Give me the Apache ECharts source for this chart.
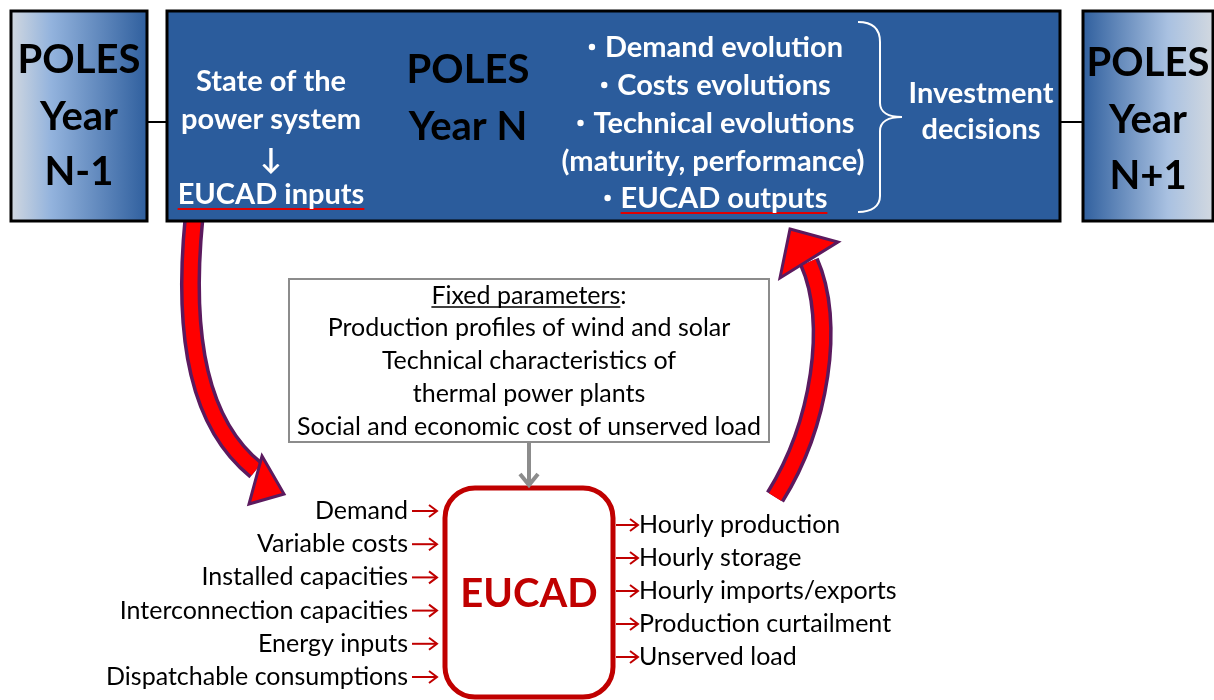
<!DOCTYPE html>
<html>
<head>
<meta charset="utf-8">
<script src="https://cdn.jsdelivr.net/npm/echarts@6/dist/echarts.min.js"></script>
<style>
  html, body { margin: 0; padding: 0; background: #fff; }
  #main { width: 1214px; height: 700px; }
</style>
</head>
<body>
<div id="main"></div>
<script>
var chart = echarts.init(document.getElementById('main'));

// texts of the diagram
var prevYear = ['POLES', 'Year', 'N-1'];
var nextYear = ['POLES', 'Year', 'N+1'];
var curYear = ['POLES', 'Year N'];
var stateLines = ['State of the', 'power system', '\u2193', 'EUCAD inputs'];
var evolutions = ['Demand evolution', 'Costs evolutions', 'Technical evolutions',
    '(maturity, performance)', 'EUCAD outputs'];
var bulleted = [true, true, true, false, true];
var decision = ['Investment', 'decisions'];
var fixedTitle = 'Fixed parameters';
var fixedParams = ['Production profiles of wind and solar', 'Technical characteristics of',
    'thermal power plants', 'Social and economic cost of unserved load'];
var inputs = ['Demand', 'Variable costs', 'Installed capacities', 'Interconnection capacities',
    'Energy inputs', 'Dispatchable consumptions'];
var outputs = ['Hourly production', 'Hourly storage', 'Hourly imports/exports',
    'Production curtailment', 'Unserved load'];
var modelName = 'EUCAD';

var FONT = 'Lato, "DejaVu Sans", sans-serif';
var RED = '#c00000';
var BLUE = '#2b5c9c';
var PURPLE = '#5b1a5e';

var ctx = document.createElement('canvas').getContext('2d');
function measure(s, font) { ctx.font = font; return ctx.measureText(s).width; }

function txt(s, x, y, size, color, bold, align) {
    return {
        type: 'text', z: 20,
        style: {
            text: s, x: x, y: y, fill: color,
            font: (bold ? 'bold ' : '') + size + 'px ' + FONT,
            textAlign: align || 'center', textVerticalAlign: 'middle'
        }
    };
}
function line(pts, color, w, z) {
    return { type: 'polyline', z: z || 10, shape: { points: pts },
        style: { stroke: color, lineWidth: w, fill: null } };
}
function curve(a, c1, c2, b, color, w, z) {
    return { type: 'bezierCurve', z: z || 10,
        shape: { x1: a[0], y1: a[1], cpx1: c1[0], cpy1: c1[1], cpx2: c2[0], cpy2: c2[1], x2: b[0], y2: b[1] },
        style: { stroke: color, lineWidth: w, fill: null } };
}

var els = [];

// big red curved arrows (below the boxes)
els.push(curve([194, 218], [182, 340], [200, 425], [256, 470], PURPLE, 21, 1));
els.push(curve([194, 218], [182, 340], [200, 425], [256, 470], '#ff0000', 14, 2));
els.push({ type: 'polygon', z: 3,
    shape: { points: [[262, 456], [284, 494], [249, 504]] },
    style: { fill: '#ff0000', stroke: PURPLE, lineWidth: 3, lineJoin: 'miter' } });

els.push(curve([775, 497], [820, 425], [836, 322], [809, 262], PURPLE, 21, 1));
els.push(curve([775, 497], [820, 425], [836, 322], [809, 262], '#ff0000', 14, 2));
els.push({ type: 'polygon', z: 3,
    shape: { points: [[790, 229], [838, 242], [780, 278]] },
    style: { fill: '#ff0000', stroke: PURPLE, lineWidth: 3, lineJoin: 'miter' } });

// connectors between years
els.push(line([[148, 122], [166, 122]], '#000', 2, 5));
els.push(line([[1060, 122], [1082, 122]], '#000', 2, 5));

// year boxes
els.push({ type: 'rect', z: 6, shape: { x: 11, y: 11, width: 136, height: 210 },
    style: { stroke: '#000', lineWidth: 3,
        fill: new echarts.graphic.LinearGradient(0, 0, 1, 0, [
            { offset: 0, color: '#d3d9e0' }, { offset: 0.3, color: '#93b3dd' }, { offset: 1, color: '#2e5e9d' }]) } });
els.push({ type: 'rect', z: 6, shape: { x: 1083, y: 11, width: 130, height: 210 },
    style: { stroke: '#000', lineWidth: 3,
        fill: new echarts.graphic.LinearGradient(0, 0, 1, 0, [
            { offset: 0, color: '#2e5e9d' }, { offset: 0.65, color: '#a9c1e1' }, { offset: 1, color: '#d3d9e0' }]) } });
els.push({ type: 'rect', z: 6, shape: { x: 167, y: 11, width: 893, height: 210 },
    style: { stroke: '#000', lineWidth: 3, fill: BLUE } });

[60, 117, 172].forEach(function (y, i) { els.push(txt(prevYear[i], 79, y, 40, '#000', true)); });
[63, 120, 176].forEach(function (y, i) { els.push(txt(nextYear[i], 1148, y, 40, '#000', true)); });
[70, 127].forEach(function (y, i) { els.push(txt(curYear[i], 468, y, 40, '#000', true)); });
[82, 120, 160, 195].forEach(function (y, i) { els.push(txt(stateLines[i], 271, y, 29, '#fff', true)); });
var wIn = measure(stateLines[3], 'bold 29px ' + FONT);
els.push(line([[271 - wIn / 2, 209], [271 + wIn / 2, 209]], '#e00000', 2));

// evolutions, bullet drawn smaller in front of the text
var BF = 'bold 29px ' + FONT;
[48, 86, 124, 162, 199].forEach(function (y, i) {
    var s = evolutions[i];
    var w = measure(s, BF);
    if (bulleted[i]) {
        var full = w + 16;
        var left = 716 - full / 2;
        els.push({ type: 'circle', z: 20, shape: { cx: left + 3, cy: y - 1, r: 3.2 }, style: { fill: '#fff' } });
        els.push(txt(s, left + 16, y, 29, '#fff', true, 'left'));
        if (i === 4) els.push(line([[left + 16, 213], [left + 16 + w, 213]], '#e00000', 2));
    } else {
        els.push(txt(s, 713, y, 29, '#fff', true));
    }
});
[94, 130].forEach(function (y, i) { els.push(txt(decision[i], 981, y, 29, '#fff', true)); });

// brace
els.push(curve([858, 22], [872, 22], [880, 28], [880, 42], '#fff', 2, 15));
els.push(line([[880, 42], [880, 103]], '#fff', 2, 15));
els.push(curve([880, 103], [880, 112], [888, 117], [902, 117], '#fff', 2, 15));
els.push(curve([902, 117], [888, 117], [880, 122], [880, 131], '#fff', 2, 15));
els.push(line([[880, 131], [880, 196]], '#fff', 2, 15));
els.push(curve([880, 196], [880, 206], [872, 212], [858, 212], '#fff', 2, 15));

// fixed parameters box
var RF = '25px ' + FONT;
els.push({ type: 'rect', z: 6, shape: { x: 289, y: 279, width: 480, height: 163 },
    style: { stroke: '#8c8c8c', lineWidth: 2, fill: '#fff' } });
els.push(txt(fixedTitle + ':', 529, 296, 25, '#000', false));
var wT = measure(fixedTitle + ':', RF), wT0 = measure(fixedTitle, RF);
els.push(line([[529 - wT / 2, 307], [529 - wT / 2 + wT0, 307]], '#000', 1.5));
[328, 361, 394, 427].forEach(function (y, i) { els.push(txt(fixedParams[i], 529, y, 25, '#000', false)); });

// grey arrow
els.push(line([[529, 443], [529, 484]], '#8c8c8c', 4));
els.push(line([[520, 474], [529, 485], [538, 474]], '#8c8c8c', 4));

// model box
els.push({ type: 'rect', z: 6, shape: { x: 445, y: 488, width: 168, height: 209, r: 30 },
    style: { stroke: RED, lineWidth: 5, fill: '#fff' } });
els.push(txt(modelName, 529, 594, 40, RED, true));

// inputs
inputs.forEach(function (s, i) {
    var y = 511 + i * 33.2;
    els.push(txt(s, 408, y, 25, '#000', false, 'right'));
    els.push(line([[412, y], [437, y]], RED, 2));
    els.push(line([[429, y - 6], [437, y], [429, y + 6]], RED, 2));
});
// outputs
outputs.forEach(function (s, i) {
    var y = 525 + i * 33;
    els.push(txt(s, 639, y, 25, '#000', false, 'left'));
    els.push(line([[616, y], [638, y]], RED, 2));
    els.push(line([[630, y - 6], [638, y], [630, y + 6]], RED, 2));
});

var option = {
    backgroundColor: '#fff',
    animation: false,
    graphic: { elements: els }
};

chart.setOption(option);
</script>
</body>
</html>
